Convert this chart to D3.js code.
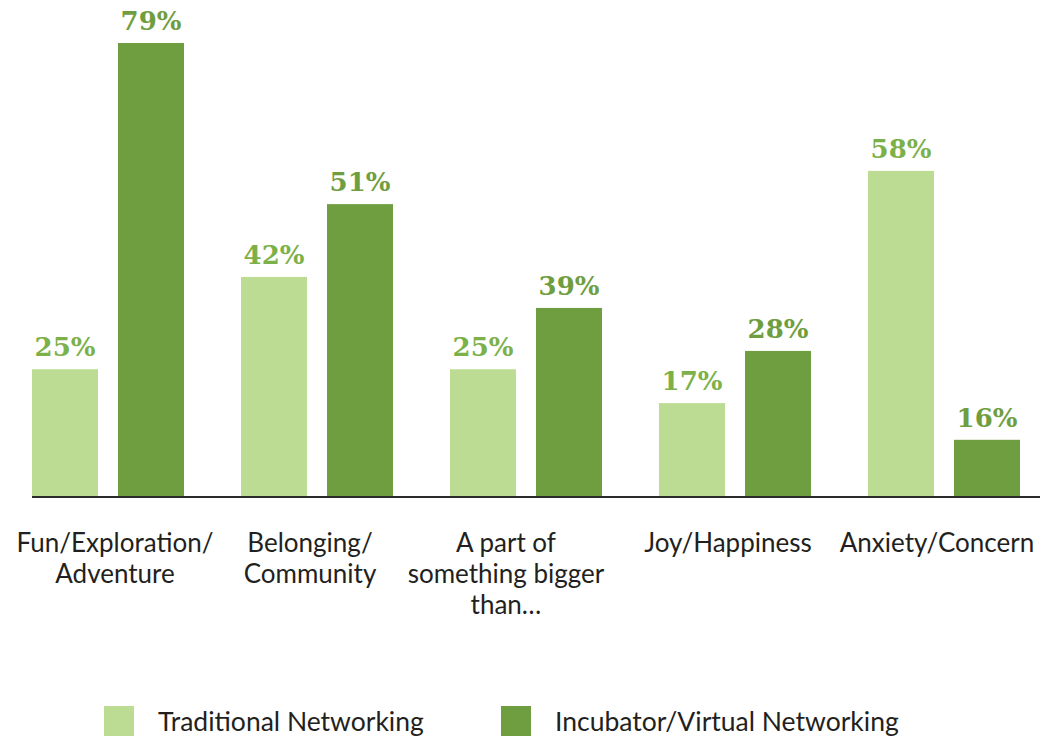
<!DOCTYPE html>
<html><head><meta charset="utf-8">
<script src="https://cdn.jsdelivr.net/npm/d3@7"></script>
<style>html,body{margin:0;padding:0;background:#fff;}svg{display:block;}</style>
</head><body>
<svg id="chart" width="1051" height="738"></svg>
<script>
// ---- data ----
const categories = [
  ["Fun/Exploration/", "Adventure"],
  ["Belonging/", "Community"],
  ["A part of", "something bigger", "than…"],
  ["Joy/Happiness"],
  ["Anxiety/Concern"]
];
const seriesNames = ["Traditional Networking", "Incubator/Virtual Networking"];
// printed percentages
const traditionalLabels = [25, 42, 25, 17, 58];
const incubatorLabels   = [79, 51, 39, 28, 16];
// bar lengths as drawn in the source (the source bars are not to scale), in % units
const traditionalDrawn = [22.1, 38.2, 22.1, 16.2, 56.7];
const incubatorDrawn   = [79, 50.9, 32.8, 25.3, 9.8];

// ---- layout ----
const W = 1051, H = 738;
const baseY = 496;
const colors = ["#bddc93", "#6f9e41"];
const labelColors = ["#7cb14a", "#6f9e40"];
const catNudge = [7, -7, -20, -7, -7];

const svg = d3.select("#chart");
const keys = categories.map((c, i) => i);

const x0 = d3.scaleBand().domain(keys).range([3.5, 1048.5])
  .paddingInner(57 / 209).paddingOuter(57 / 209 / 2);
const x1 = d3.scaleBand().domain([0, 1]).range([0, x0.bandwidth()])
  .paddingInner(20 / 86).paddingOuter(0);
const y = d3.scaleLinear().domain([0, 79]).range([baseY, 43]);

const rows = keys.map(i => ({
  i,
  bars: [
    {s: 0, v: traditionalDrawn[i], lab: traditionalLabels[i]},
    {s: 1, v: incubatorDrawn[i], lab: incubatorLabels[i]}
  ]
}));

const g = svg.append("g");
const groups = g.selectAll("g.grp").data(rows).join("g")
  .attr("transform", d => `translate(${x0(d.i)},0)`);

groups.selectAll("rect").data(d => d.bars).join("rect")
  .attr("x", d => x1(d.s))
  .attr("width", x1.bandwidth())
  .attr("y", d => y(d.v))
  .attr("height", d => y(0) - y(d.v) + 1)
  .attr("fill", d => colors[d.s]);

groups.selectAll("text.val").data(d => d.bars).join("text")
  .attr("class", "val")
  .attr("x", d => x1(d.s) + x1.bandwidth() / 2)
  .attr("y", d => y(d.v) - 13)
  .attr("text-anchor", "middle")
  .attr("font-family", "'DejaVu Serif', serif")
  .attr("font-weight", "bold")
  .attr("font-size", 26)
  .attr("fill", d => labelColors[d.s])
  .text(d => d.lab + "%");

// axis line
const axis = d3.axisBottom(x0).tickSize(0).tickFormat("");
const ax = svg.append("g").attr("transform", `translate(0,${baseY + 1})`).call(axis);
ax.select(".domain").attr("d", `M32,0H1040`).attr("stroke", "#2b2b2b").attr("stroke-width", 2);

// category labels
const cl = svg.append("g");
rows.forEach(r => {
  const t = cl.append("text")
    .attr("text-anchor", "middle")
    .attr("font-family", "Lato, sans-serif")
    .attr("font-size", 26)
    .attr("fill", "#231f20");
  categories[r.i].forEach((line, k) => {
    t.append("tspan")
      .attr("x", x0(r.i) + x0.bandwidth() / 2 + catNudge[r.i])
      .attr("y", 552 + k * 31)
      .text(line);
  });
});

// legend
const legend = svg.append("g");
const legX = [104, 501];
seriesNames.forEach((n, i) => {
  legend.append("rect").attr("x", legX[i]).attr("y", 706).attr("width", 30).attr("height", 30).attr("fill", colors[i]);
  legend.append("text").attr("x", legX[i] + 54).attr("y", 731)
    .attr("font-family", "Lato, sans-serif").attr("font-size", 26.5).attr("fill", "#231f20").text(n);
});
</script>
</body></html>
